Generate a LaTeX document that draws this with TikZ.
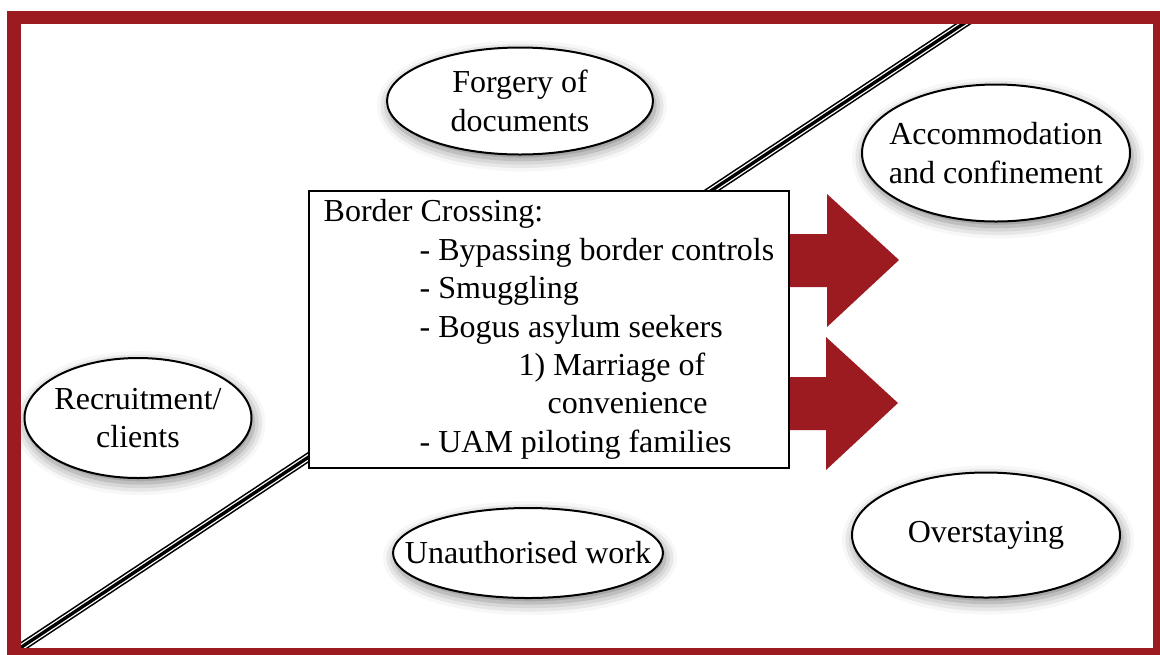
\documentclass[tikz,border=0pt]{standalone}
\usepackage{fontspec}
\setmainfont{Liberation Serif}
\usetikzlibrary{shapes.geometric,shadows.blur}
\tikzset{
every picture/.style={
line width=1pt
}}
\definecolor{framered}{RGB}{155,27,32}

\begin{document}
\begin{tikzpicture}[x=0.5pt, y=-0.5pt,
font=\fontsize{16}{19.2}\selectfont,
oval/.style = {ellipse, draw=black, fill=white, align=center, inner xsep=-15pt, inner ysep=0pt,
  blur shadow={shadow xshift=1pt, shadow yshift=-2.5pt, shadow opacity=50, shadow blur radius=6pt}},
block/.style = {rectangle, draw=black, fill=white, align=left,
  minimum width=240pt, minimum height=138.5pt},
bigarrow/.style = {fill=framered}]
\useasboundingbox (0,0) rectangle (1160,654);

% border line
\draw[black, line width=4.6pt] (14,652) -- (970,19.4);
\draw[white, line width=3pt] (14,652) -- (970,19.4);
\draw[black, line width=1.7pt] (14,652) -- (970,19.4);

\node[oval, minimum width=133pt, minimum height=53.5pt] at (520,101) (forgery) {Forgery of\\documents};
\node[oval, minimum width=134pt, minimum height=68.5pt] at (996,153) (accom) {Accommodation\\and confinement};
\node[oval, minimum width=113.5pt, minimum height=60pt] at (138,418) (recruit) {Recruitment/\\clients};
\node[oval, minimum width=135pt, minimum height=45pt] at (528,553) (unauth) {Unauthorised work};
\node[oval, minimum width=134pt, minimum height=62.5pt] at (986,535) (overstay) {Overstaying};

\fill[bigarrow] (780,234) -- (827,234) -- (827,194) -- (899,260) -- (827,327) -- (827,287) -- (780,287) -- cycle;
\fill[bigarrow] (780,377) -- (826,377) -- (826,337) -- (898,403) -- (826,470) -- (826,430) -- (780,430) -- cycle;

\node[block] at (549,329.5) (cross) {Border Crossing:\\
\hspace*{48pt}- Bypassing border controls\\
\hspace*{48pt}- Smuggling\\
\hspace*{48pt}- Bogus asylum seekers\\
\hspace*{97.5pt}1) Marriage of\\
\hspace*{112pt}convenience\\
\hspace*{48pt}- UAM piloting families};

% frame
\draw[framered, line width=6.75pt] (14,17.5) rectangle (1160,655);
\end{tikzpicture}
\end{document}
